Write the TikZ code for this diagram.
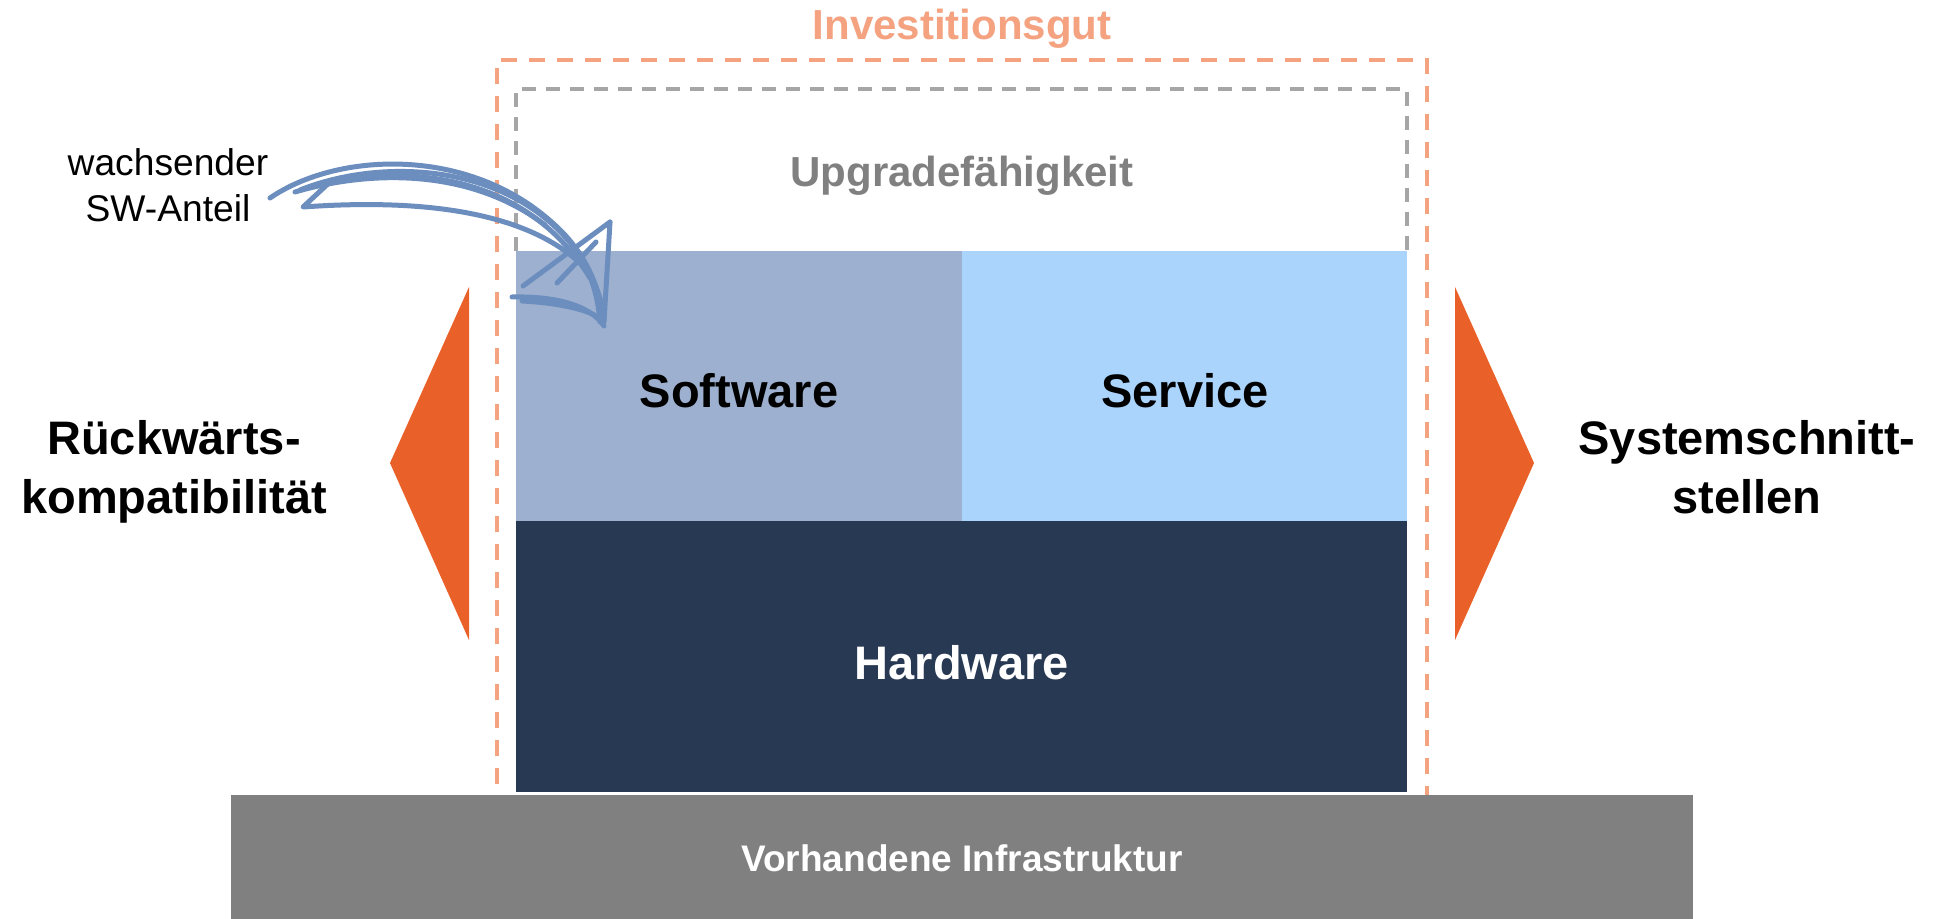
\documentclass[tikz,border=0pt]{standalone}
\usepackage{fontspec}
\setmainfont{Liberation Sans}
\definecolor{invorange}{RGB}{244,162,128}
\definecolor{upgray}{RGB}{166,166,166}
\definecolor{uptext}{RGB}{128,128,128}
\definecolor{swfill}{RGB}{157,176,207}
\definecolor{svfill}{RGB}{170,212,252}
\definecolor{hwfill}{RGB}{40,57,84}
\definecolor{infrafill}{RGB}{128,128,128}
\definecolor{triorange}{RGB}{233,97,41}
\definecolor{arrowblue}{RGB}{108,142,191}
\begin{document}
\begin{tikzpicture}[x=0.5pt,y=-0.5pt,
  dashorange/.style={draw=invorange, line width=2pt, dash pattern=on 8pt off 6pt},
  dashgray/.style={draw=upgray, line width=1.75pt, dash pattern=on 7pt off 5pt},
  boxnode/.style={inner sep=0pt, outer sep=0pt, anchor=north west},
  bigbold/.style={inner sep=0pt, anchor=base, font=\fontsize{23.5}{28}\selectfont\bfseries},
  midbold/.style={inner sep=0pt, anchor=base, font=\fontsize{21}{25}\selectfont\bfseries},
  smallbold/.style={inner sep=0pt, anchor=base, font=\fontsize{18.5}{22}\selectfont\bfseries},
  smallreg/.style={inner sep=0pt, anchor=base, font=\fontsize{18.6}{22}\selectfont},
  sketch/.style={draw=arrowblue, line width=2.5pt, line cap=round, line join=round}]
\useasboundingbox (0,0) rectangle (1946,919);
\fill[white] (0,0) rectangle (1946,919);

% dashed frames
\draw[dashorange] (497,840) -- (497,60) -- (1427,60) -- (1427,840);
\draw[dashgray] (516,251) -- (516,89) -- (1407,89) -- (1407,251);

% boxes
\node[boxnode, fill=swfill, minimum width=446*0.5pt, minimum height=270*0.5pt] (sw) at (516,251) {};
\node[boxnode, fill=svfill, minimum width=445*0.5pt, minimum height=270*0.5pt] (sv) at (962,251) {};
\node[boxnode, fill=hwfill, minimum width=891*0.5pt, minimum height=271*0.5pt] (hw) at (516,521) {};
\node[boxnode, fill=infrafill, minimum width=1462*0.5pt, minimum height=130*0.5pt] (infra) at (231,795) {};

% triangles
\fill[triorange] (469,287) -- (390,463) -- (469,640) -- cycle;
\fill[triorange] (1455,287) -- (1534,463) -- (1455,640) -- cycle;

% texts
\node[midbold, text=invorange] (invest) at (962,40) {Investitionsgut};
\node[midbold, text=uptext] (upgrade) at (962,187) {Upgradefähigkeit};
\node[bigbold] (swtext) at (739,407) {Software};
\node[bigbold] (svtext) at (1185,407) {Service};
\node[bigbold, text=white] (hwtext) at (962,679) {Hardware};
\node[smallbold, text=white] (infratext) at (962,871) {Vorhandene Infrastruktur};
\node[bigbold] (rueck1) at (174,454) {Rückwärts-};
\node[bigbold] (rueck2) at (174,513) {kompatibilität};
\node[bigbold] (sys1) at (1747,454) {Systemschnitt-};
\node[bigbold] (sys2) at (1747,513) {stellen};
\node[smallreg] (wachs1) at (168,176) {wachsender};
\node[smallreg] (wachs2) at (168,222) {SW-Anteil};

% hand-drawn arrow
\coordinate (arrS) at (270,198);
\coordinate (arrT) at (604,320);
\draw[sketch] (arrS) .. controls (340,150) and (480,145) .. (565,235) .. controls (588,260) and (600,290) .. (arrT);
\draw[sketch] (300,190) .. controls (380,158) and (505,162) .. (572,245) .. controls (590,268) and (598,295) .. (600,322);
\draw[sketch] (330,182) -- (303,207) .. controls (400,200) and (520,205) .. (582,265) .. controls (596,283) and (602,300) .. (603,315);
\draw[sketch] (318,184) .. controls (420,162) and (530,180) .. (590,278);
\draw[sketch] (295,192) .. controls (370,170) and (470,168) .. (545,225);
\draw[sketch] (610,222) -- (604,322);
\draw[sketch] (610,222) -- (523,286);
\draw[sketch] (596,242) -- (557,283);
\draw[sketch] (512,297) .. controls (555,296) and (590,305) .. (604,326);
\draw[sketch] (522,301) .. controls (560,303) and (588,310) .. (600,318);
\end{tikzpicture}
\end{document}
